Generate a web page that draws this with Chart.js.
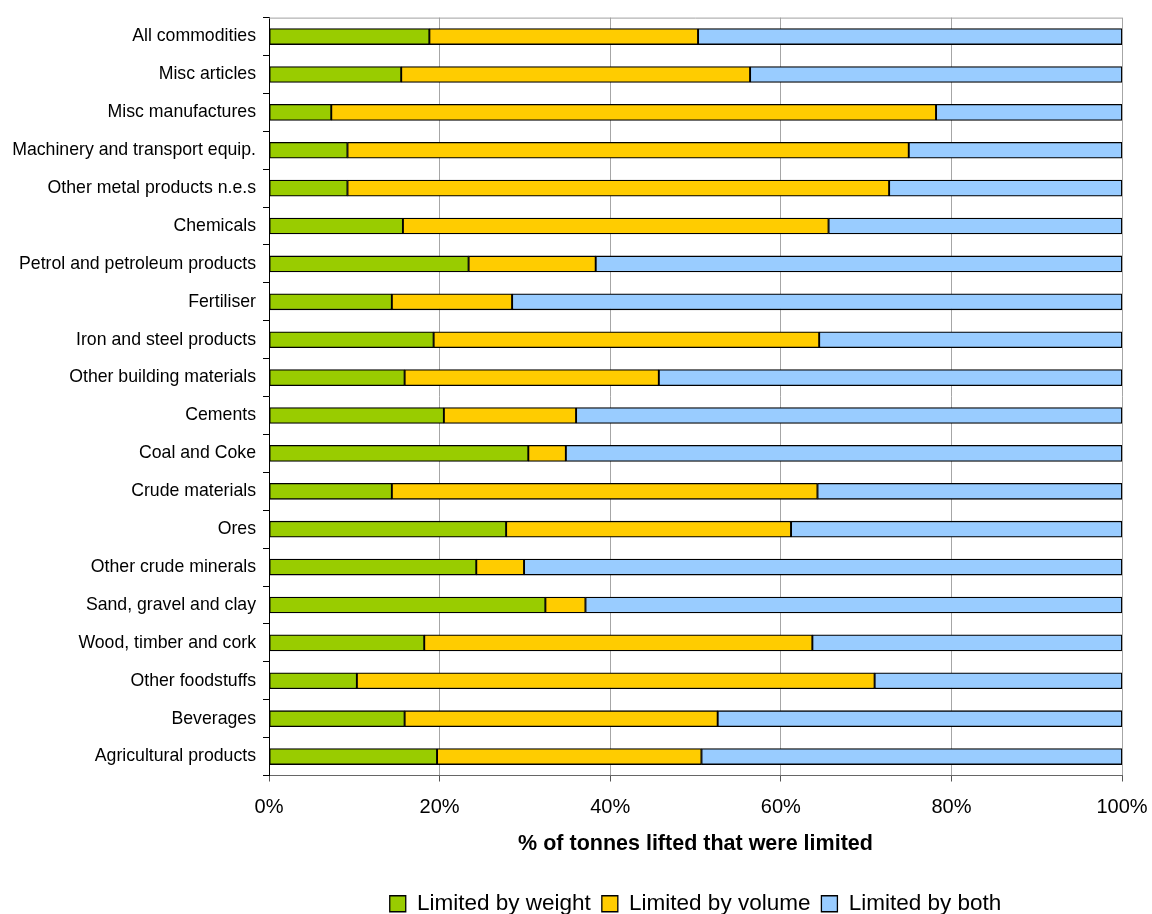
<!DOCTYPE html>
<html lang="en">
<head>
  <meta charset="UTF-8" />
  <title>Limiting factor by commodity</title>
  <style>
    * { margin: 0; padding: 0; }
    body { background: #fff; }
    .chartBox { width: 1152px; height: 914px; }
  </style>
</head>
<body>
  <div class="chartBox">
    <canvas id="myChart"></canvas>
  </div>
  <script src="https://cdn.jsdelivr.net/npm/chart.js@4.4.1/dist/chart.umd.min.js"></script>
  <script>
    // top to bottom, as drawn
    const categories = [
      "All commodities", "Misc articles", "Misc manufactures",
      "Machinery and transport equip.", "Other metal products n.e.s", "Chemicals",
      "Petrol and petroleum products", "Fertiliser", "Iron and steel products",
      "Other building materials", "Cements", "Coal and Coke", "Crude materials",
      "Ores", "Other crude minerals", "Sand, gravel and clay",
      "Wood, timber and cork", "Other foodstuffs", "Beverages", "Agricultural products"
    ];

    const byWeight = [18.8, 15.5, 7.3, 9.2, 9.2, 15.7, 23.4, 14.4, 19.3, 15.9,
                      20.5, 30.4, 14.4, 27.8, 24.3, 32.4, 18.2, 10.3, 15.9, 19.7];
    const byVolume = [31.5, 40.9, 70.9, 65.8, 63.5, 49.9, 14.9, 14.1, 45.2, 29.8,
                      15.5, 4.4, 49.9, 33.4, 5.6, 4.7, 45.5, 60.7, 36.7, 31.0];
    const byBoth = [49.7, 43.6, 21.8, 25.0, 27.3, 34.4, 61.7, 71.5, 35.5, 54.3,
                    64.0, 65.2, 35.7, 38.8, 70.1, 62.9, 36.3, 29.0, 47.4, 49.3];

    const seriesNames = ["Limited by weight", "Limited by volume", "Limited by both"];
    const xTickLabels = ["0%", "20%", "40%", "60%", "80%", "100%"];

    const FONT = "Arial, 'Liberation Sans', Helvetica, sans-serif";
    Chart.defaults.font.family = FONT;
    Chart.defaults.color = "#000";

    const bar = (label, values, colour) => ({
      label: label,
      data: values,
      backgroundColor: colour,
      borderColor: "#000",
      borderWidth: 1.3,
      borderSkipped: false,
      barThickness: 16,
    });

    const data = {
      labels: categories,
      datasets: [
        bar(seriesNames[0], byWeight, "#99cc00"),
        bar(seriesNames[1], byVolume, "#ffcc00"),
        bar(seriesNames[2], byBoth, "#99ccff"),
      ],
    };

    // grey frame along the top of the plot area
    const plotFrame = {
      id: "plotFrame",
      afterDatasetsDraw(chart) {
        const { ctx, chartArea: a } = chart;
        ctx.save();
        ctx.strokeStyle = "#a0a0a0";
        ctx.lineWidth = 1;
        ctx.beginPath();
        ctx.moveTo(a.left, a.top + 0.5);
        ctx.lineTo(a.right, a.top + 0.5);
        ctx.stroke();
        ctx.restore();
      },
    };

    const options = {
      indexAxis: "y",
      responsive: true,
      maintainAspectRatio: false,
      animation: false,
      layout: { padding: { top: 14, right: 30, left: 0, bottom: -11 } },
      scales: {
        x: {
          stacked: true,
          min: 0,
          max: 100,
          ticks: {
            stepSize: 20,
            padding: 14,
            font: { size: 20 },
            callback: (v) => xTickLabels[v / 20],
          },
          grid: { color: "#a6a6a6", tickColor: "#555", tickLength: 6 },
          border: { color: "#666" },
          title: {
            display: true,
            text: "% of tonnes lifted that were limited",
            font: { size: 21.5, weight: "bold" },
            padding: { top: 0, bottom: 25 },
          },
          afterFit: (scale) => {
            scale.height = 106;
            scale.paddingLeft = 0;
            scale.paddingRight = 0;
          },
        },
        y: {
          stacked: true,
          ticks: { padding: 7, font: { size: 17.7 } },
          grid: { drawOnChartArea: false, color: "#000", tickLength: 6, offset: true },
          border: { color: "#000" },
          afterFit: (scale) => { scale.width = 269; },
        },
      },
      plugins: {
        legend: {
          position: "bottom",
          fullSize: false,
          labels: {
            boxWidth: 16,
            boxHeight: 16,
            padding: 11,
            font: { size: 22.5 },
            color: "#000",
          },
        },
        tooltip: { enabled: false },
      },
    };

    const ctx = document.getElementById("myChart").getContext("2d");
    const myChart = new Chart(ctx, {
      type: "bar",
      data: data,
      options: options,
      plugins: [plotFrame],
    });
  </script>
</body>
</html>
